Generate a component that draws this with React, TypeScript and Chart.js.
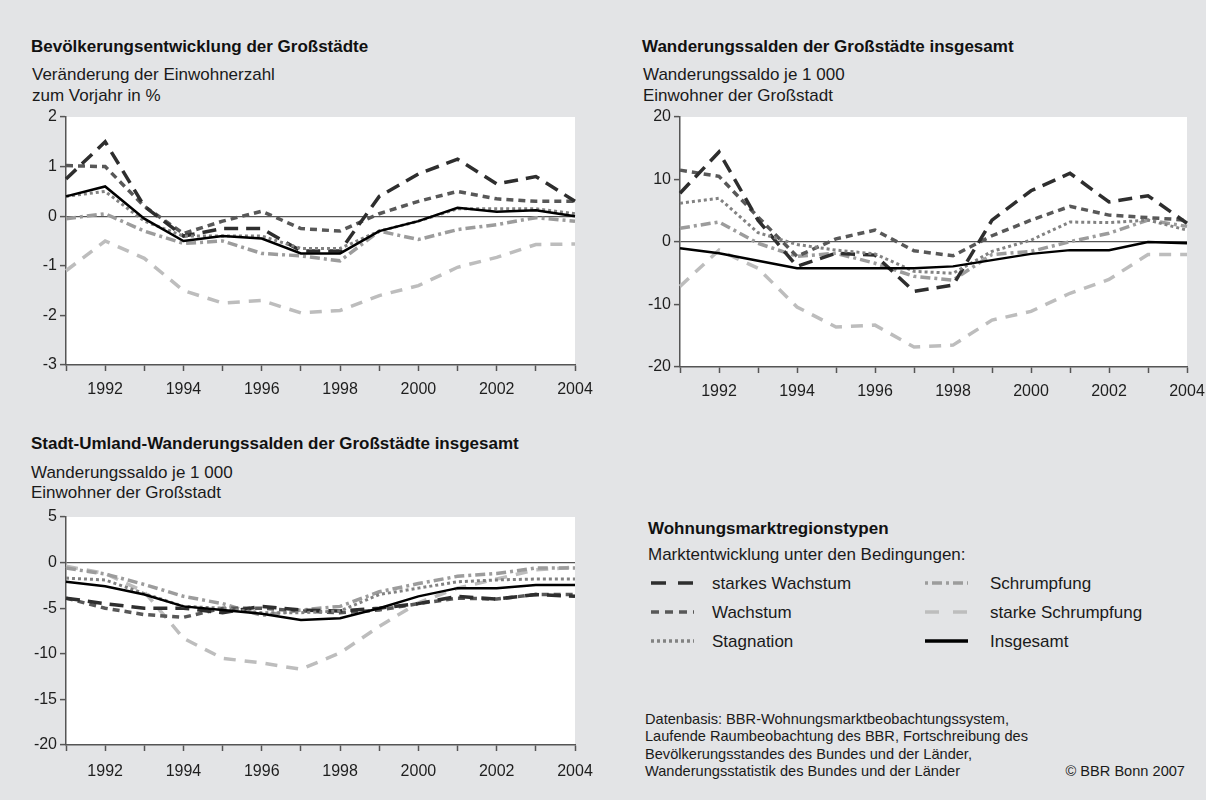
import React, { useEffect, useRef } from "react";
import { Chart, registerables } from "chart.js";

Chart.register(...registerables);

// ---------- data ----------
const years = ["1991", "1992", "1993", "1994", "1995", "1996", "1997", "1998", "1999", "2000", "2001", "2002", "2003", "2004"];
const seriesNames = ["starkes Wachstum", "Wachstum", "Stagnation", "Schrumpfung", "starke Schrumpfung", "Insgesamt"];

// Chart 1: Bevölkerungsentwicklung (Veränderung zum Vorjahr in %)
const bevStarkesWachstum = [0.75, 1.5, 0.2, -0.4, -0.25, -0.25, -0.7, -0.7, 0.4, 0.85, 1.15, 0.65, 0.8, 0.3];
const bevWachstum = [1.02, 1.0, 0.2, -0.35, -0.1, 0.1, -0.25, -0.3, 0.05, 0.3, 0.5, 0.35, 0.3, 0.3];
const bevStagnation = [0.4, 0.5, -0.1, -0.4, -0.4, -0.4, -0.65, -0.65, -0.3, -0.1, 0.15, 0.15, 0.15, 0.05];
const bevSchrumpfung = [-0.05, 0.05, -0.3, -0.55, -0.5, -0.75, -0.8, -0.9, -0.3, -0.47, -0.27, -0.17, -0.03, -0.1];
const bevStarkeSchrumpfung = [-1.1, -0.5, -0.85, -1.5, -1.75, -1.7, -1.95, -1.9, -1.6, -1.4, -1.03, -0.83, -0.57, -0.56];
const bevInsgesamt = [0.4, 0.6, -0.05, -0.5, -0.4, -0.45, -0.75, -0.75, -0.3, -0.1, 0.17, 0.09, 0.12, 0.0];

// Chart 2: Wanderungssalden insgesamt (je 1 000 Einwohner)
const wanStarkesWachstum = [7.8, 14.4, 3.5, -3.9, -1.8, -2.1, -7.9, -6.9, 3.5, 8.2, 11, 6.4, 7.4, 3.0];
const wanWachstum = [11.5, 10.5, 4, -2.3, 0.5, 1.9, -1.4, -2.2, 1.0, 3.5, 5.7, 4.3, 3.9, 3.5];
const wanStagnation = [6.2, 7, 1.5, -0.4, -1.3, -1.9, -4.7, -5.0, -1.5, 0.3, 3.2, 3.1, 3.5, 1.9];
const wanSchrumpfung = [2.2, 3.2, -0.2, -2.3, -1.8, -3.4, -5.5, -6.1, -2, -1.5, 0.05, 1.4, 3.5, 2.5];
const wanStarkeSchrumpfung = [-7.1, -1.3, -4.2, -10.4, -13.6, -13.3, -16.8, -16.5, -12.5, -11.1, -8.2, -6, -2, -2];
const wanInsgesamt = [-1, -1.8, -3, -4.2, -4.2, -4.2, -4.2, -3.9, -2.9, -1.9, -1.3, -1.3, 0, -0.2];

// Chart 3: Stadt-Umland-Wanderungssalden (je 1 000 Einwohner)
const suwStarkesWachstum = [-3.9, -4.5, -5, -5, -5.5, -4.8, -5.2, -5.3, -5.0, -4.5, -3.7, -4.0, -3.5, -3.7];
const suwWachstum = [-3.9, -5, -5.7, -6, -5, -5.0, -5.3, -5.5, -5.2, -4.5, -3.9, -4, -3.5, -3.5];
const suwStagnation = [-1.7, -1.9, -3.4, -4.8, -5, -5.5, -5.5, -5.3, -3.5, -2.8, -2.1, -1.9, -1.8, -1.8];
const suwSchrumpfung = [-0.6, -1.25, -2.4, -3.7, -4.5, -5.8, -5.2, -4.8, -3.2, -2.3, -1.5, -1.2, -0.6, -0.6];
const suwStarkeSchrumpfung = [-0.4, -1.2, -3.2, -8.3, -10.5, -11, -11.7, -9.9, -7, -4.4, -2.8, -1.8, -0.8, -0.5];
const suwInsgesamt = [-2.1, -2.6, -3.5, -4.8, -5.2, -5.6, -6.3, -6.1, -5, -3.7, -2.8, -2.8, -2.45, -2.45];

// ---------- styles ----------
const FONT = "'Liberation Sans', Arial, Helvetica, sans-serif";
const BG = "#e3e4e6";
const styles = [
  { color: "#2e2e2e", width: 3.5, dash: [14, 8], order: 2 },
  { color: "#585858", width: 3.5, dash: [7, 5], order: 3 },
  { color: "#828282", width: 3, dash: [3, 3], order: 1 },
  { color: "#9c9c9c", width: 3.5, dash: [10, 4, 3, 4], order: 4 },
  { color: "#bdbdbd", width: 3.5, dash: [12, 9], order: 5 },
  { color: "#000000", width: 2.5, dash: [], order: 0 },
];
const legendDash = [[15, 12], [8, 6], [3, 3], [3, 4, 10, 4], [14, 14], []];

const plotBg = {
  id: "plotBg",
  beforeDraw(chart: any) {
    const { ctx, chartArea } = chart;
    if (!chartArea) return;
    ctx.save();
    ctx.fillStyle = "#ffffff";
    ctx.fillRect(chartArea.left, chartArea.top, chartArea.right - chartArea.left, chartArea.bottom - chartArea.top);
    ctx.restore();
  },
};

type PanelProps = {
  left: number; top: number; width: number; height: number;
  pad: { left: number; right: number; top: number };
  yAxisWidth: number; xAxisHeight: number; xTickPad: number;
  series: number[][]; min: number; max: number; step: number;
};

function Panel(p: PanelProps) {
  const ref = useRef<HTMLCanvasElement>(null);
  useEffect(() => {
    if (!ref.current) return;
    const chart = new Chart(ref.current, {
      type: "line",
      data: {
        labels: years,
        datasets: p.series.map((d, i) => ({
          label: seriesNames[i],
          data: d,
          borderColor: styles[i].color,
          borderWidth: styles[i].width,
          borderDash: styles[i].dash,
          borderCapStyle: "butt" as const,
          borderJoinStyle: "miter" as const,
          pointRadius: 0,
          tension: 0,
          fill: false,
          order: styles[i].order,
        })),
      },
      options: {
        responsive: false,
        animation: false,
        devicePixelRatio: 1,
        layout: { padding: { left: p.pad.left, right: p.pad.right, top: p.pad.top, bottom: 0 } },
        plugins: { legend: { display: false }, tooltip: { enabled: false }, title: { display: false } },
        scales: {
          x: {
            type: "category",
            offset: false,
            grid: { display: true, drawOnChartArea: false, drawTicks: true, tickLength: 6, tickColor: "#555", tickWidth: 1.5, offset: false },
            border: { display: true, color: "#555", width: 1.5 },
            ticks: {
              autoSkip: false,
              maxRotation: 0,
              minRotation: 0,
              padding: p.xTickPad,
              color: "#1e1e1e",
              font: { family: FONT, size: 16 },
              callback: (_v: any, i: number) => (Number(years[i]) % 2 === 0 ? years[i] : ""),
            },
            afterFit: (s: any) => { s.height = p.xAxisHeight; s.paddingLeft = 0; s.paddingRight = 0; },
          },
          y: {
            min: p.min,
            max: p.max,
            grid: {
              display: true,
              drawOnChartArea: true,
              drawTicks: true,
              tickLength: 6,
              tickColor: "#555",
              tickWidth: 1.5,
              color: (c: any) => (c.tick && c.tick.value === 0 ? "#555" : "rgba(0,0,0,0)"),
              lineWidth: 1.2,
            },
            border: { display: true, color: "#555", width: 1.5 },
            ticks: { stepSize: p.step, padding: 3, color: "#1e1e1e", font: { family: FONT, size: 16 } },
            afterFit: (s: any) => { s.width = p.yAxisWidth; s.paddingTop = 0; s.paddingBottom = 0; },
          },
        },
      },
      plugins: [plotBg],
    });
    return () => chart.destroy();
  }, []);
  return (
    <canvas
      ref={ref}
      width={p.width}
      height={p.height}
      style={{ position: "absolute", left: p.left, top: p.top, width: p.width, height: p.height }}
    />
  );
}

const titleStyle: React.CSSProperties = {
  position: "absolute", fontFamily: FONT, fontWeight: "bold", fontSize: 17, lineHeight: "20px", color: "#111", whiteSpace: "nowrap",
};
const subStyle: React.CSSProperties = {
  position: "absolute", fontFamily: FONT, fontSize: 17, lineHeight: "21px", color: "#1a1a1a", whiteSpace: "nowrap",
};

function LegendSample({ idx }: { idx: number }) {
  const s = styles[idx];
  const d = legendDash[idx];
  return (
    <svg width={43} height={10} style={{ display: "block" }}>
      <line x1={0} y1={5} x2={43} y2={5} stroke={s.color} strokeWidth={3.5}
        strokeDasharray={d.length ? d.join(" ") : undefined} />
    </svg>
  );
}

export default function App() {
  const legendRows = [
    { i: 0, x: 651, tx: 712, y: 583 },
    { i: 1, x: 651, tx: 712, y: 612 },
    { i: 2, x: 651, tx: 712, y: 641 },
    { i: 3, x: 925, tx: 990, y: 583 },
    { i: 4, x: 925, tx: 990, y: 612 },
    { i: 5, x: 925, tx: 990, y: 641 },
  ];
  return (
    <div style={{ position: "absolute", left: 0, top: 0, width: 1206, height: 800, background: BG, overflow: "hidden" }}>
      {/* Chart 1 */}
      <div style={{ ...titleStyle, left: 31, top: 37 }}>Bevölkerungsentwicklung der Großstädte</div>
      <div style={{ ...subStyle, left: 32, top: 64 }}>Veränderung der Einwohnerzahl<br />zum Vorjahr in %</div>
      <Panel left={0} top={100} width={600} height={310} pad={{ left: 16, right: 25, top: 17 }}
        yAxisWidth={50} xAxisHeight={45} xTickPad={9}
        series={[bevStarkesWachstum, bevWachstum, bevStagnation, bevSchrumpfung, bevStarkeSchrumpfung, bevInsgesamt]}
        min={-3} max={2} step={1} />

      {/* Chart 2 */}
      <div style={{ ...titleStyle, left: 642, top: 37 }}>Wanderungssalden der Großstädte insgesamt</div>
      <div style={{ ...subStyle, left: 643, top: 63.5 }}>Wanderungssaldo je 1 000<br />Einwohner der Großstadt</div>
      <Panel left={610} top={100} width={596} height={310} pad={{ left: 20, right: 19, top: 17 }}
        yAxisWidth={50} xAxisHeight={43} xTickPad={9}
        series={[wanStarkesWachstum, wanWachstum, wanStagnation, wanSchrumpfung, wanStarkeSchrumpfung, wanInsgesamt]}
        min={-20} max={20} step={10} />

      {/* Chart 3 */}
      <div style={{ ...titleStyle, left: 31, top: 434 }}>Stadt-Umland-Wanderungssalden der Großstädte insgesamt</div>
      <div style={{ ...subStyle, left: 31, top: 462.5, lineHeight: "20px" }}>Wanderungssaldo je 1 000<br />Einwohner der Großstadt</div>
      <Panel left={0} top={500} width={600} height={300} pad={{ left: 16, right: 25, top: 17 }}
        yAxisWidth={50} xAxisHeight={55} xTickPad={11}
        series={[suwStarkesWachstum, suwWachstum, suwStagnation, suwSchrumpfung, suwStarkeSchrumpfung, suwInsgesamt]}
        min={-20} max={5} step={5} />

      {/* Legend */}
      <div style={{ ...titleStyle, left: 648, top: 519 }}>Wohnungsmarktregionstypen</div>
      <div style={{ ...subStyle, left: 648, top: 543.5 }}>Marktentwicklung unter den Bedingungen:</div>
      {legendRows.map((r) => (
        <React.Fragment key={r.i}>
          <div style={{ position: "absolute", left: r.x, top: r.y - 5 }}><LegendSample idx={r.i} /></div>
          <div style={{ ...subStyle, left: r.tx, top: r.y - 10.5 }}>{seriesNames[r.i]}</div>
        </React.Fragment>
      ))}

      {/* Source */}
      <div style={{ position: "absolute", left: 645, top: 711, fontFamily: FONT, fontSize: 14.6, lineHeight: "17.3px", color: "#1a1a1a", whiteSpace: "nowrap" }}>
        Datenbasis: BBR-Wohnungsmarktbeobachtungssystem,<br />
        Laufende Raumbeobachtung des BBR, Fortschreibung des<br />
        Bevölkerungsstandes des Bundes und der Länder,<br />
        Wanderungsstatistik des Bundes und der Länder
      </div>
      <div style={{ position: "absolute", right: 1206 - 1185, top: 763, fontFamily: FONT, fontSize: 14.6, lineHeight: "17px", color: "#1a1a1a", whiteSpace: "nowrap" }}>
        © BBR Bonn 2007
      </div>
    </div>
  );
}
